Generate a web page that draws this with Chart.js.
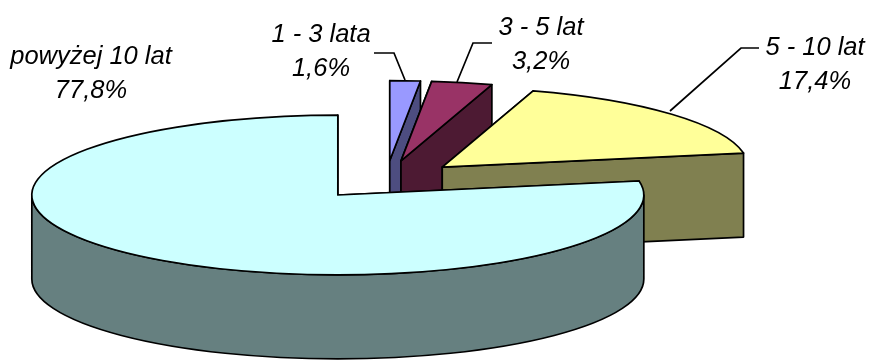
<!DOCTYPE html>
<html lang="pl">
<head>
<meta charset="utf-8">
<title>Staż</title>
<script src="https://cdn.jsdelivr.net/npm/chart.js@4"></script>
<style>
  html, body { margin: 0; background: #fff; }
  #wrap { width: 870px; height: 360px; }
</style>
</head>
<body>
<div id="wrap"><canvas id="pie" width="870" height="360"></canvas></div>
<script>
const categories = ['1 - 3 lata', '3 - 5 lat', '5 - 10 lat', 'powyżej 10 lat'];
const shares = [1.6, 3.2, 17.4, 77.8];

const topColors = ['#9999FF', '#993366', '#FFFF99', '#CCFFFF'];
const wallColors = ['#4D4D80', '#4D1A33', '#808050', '#668080'];

// 3D look of the pie
const TILT = 0.261;      // vertical squash of the circle
const DEPTH = 84;        // wall height in px
const EXPLODE = 75;      // how far each slice moves out from the centre
const STROKE = 1.7;

// centre of each two-line label, then the leader line (if any) running to its slice
const labelBoxes = [
  { x: 321, y: 35, leader: [[374, 53], [394, 53], [405, 80]] },
  { x: 541, y: 28, leader: [[492, 43], [473, 43], [457, 82]] },
  { x: 815, y: 48, leader: [[759, 48], [741, 48], [670, 111]] },
  { x: 91, y: 57, leader: null },
];
const LINE_GAP = 33.5;

const percentText = v => v.toFixed(1).replace('.', ',') + '%';

// Screen position of a slice's apex once it is pulled out along its mid angle
function sliceCentre(arc) {
  const mid = (arc.startAngle + arc.endAngle) / 2;
  return {
    x: arc.x + Math.cos(mid) * EXPLODE,
    y: arc.y + Math.sin(mid) * EXPLODE * TILT,
  };
}

function rimPoint(c, r, angle, drop) {
  return { x: c.x + Math.cos(angle) * r, y: c.y + Math.sin(angle) * r * TILT + drop };
}

function radialWall(ctx, c, r, angle) {
  const rim = rimPoint(c, r, angle, 0);
  ctx.beginPath();
  ctx.moveTo(c.x, c.y);
  ctx.lineTo(rim.x, rim.y);
  ctx.lineTo(rim.x, rim.y + DEPTH);
  ctx.lineTo(c.x, c.y + DEPTH);
  ctx.closePath();
  ctx.fill();
  ctx.stroke();
}

// Curved wall, only the part of the rim that faces the viewer
function outerWall(ctx, c, r, start, end) {
  const from = Math.max(start, 0);
  const to = Math.min(end, Math.PI);
  if (to <= from) return;
  ctx.beginPath();
  ctx.ellipse(c.x, c.y, r, r * TILT, 0, from, to);
  ctx.ellipse(c.x, c.y + DEPTH, r, r * TILT, 0, to, from, true);
  ctx.closePath();
  ctx.fill();
  ctx.stroke();
}

const pie3d = {
  id: 'pie3d',
  beforeDatasetsDraw(chart) {
    const ctx = chart.ctx;
    const arcs = chart.getDatasetMeta(0).data;

    // back to front, so the big slice ends up on top
    arcs.forEach((arc, i) => {
      const c = sliceCentre(arc);
      const r = arc.outerRadius;

      ctx.save();
      ctx.lineWidth = STROKE;
      ctx.lineJoin = 'round';
      ctx.strokeStyle = '#000';
      ctx.fillStyle = wallColors[i];
      radialWall(ctx, c, r, arc.startAngle);
      radialWall(ctx, c, r, arc.endAngle);
      outerWall(ctx, c, r, arc.startAngle, arc.endAngle);
      ctx.restore();

      // top face comes from the library's arc, squashed into an ellipse
      ctx.save();
      ctx.translate(c.x, c.y);
      ctx.scale(1, TILT);
      ctx.translate(-arc.x, -arc.y);
      arc.draw(ctx);
      ctx.restore();

      // outline stroked separately so the line width isn't squashed too
      ctx.save();
      ctx.lineWidth = STROKE;
      ctx.lineJoin = 'round';
      ctx.strokeStyle = '#000';
      ctx.beginPath();
      ctx.moveTo(c.x, c.y);
      ctx.ellipse(c.x, c.y, r, r * TILT, 0, arc.startAngle, arc.endAngle);
      ctx.closePath();
      ctx.stroke();
      ctx.restore();
    });

    return false;
  },
  // afterDatasetsDraw doesn't fire once the hook above cancels the default drawing
  afterDraw(chart) {
    const ctx = chart.ctx;
    ctx.save();
    ctx.strokeStyle = '#000';
    ctx.lineWidth = STROKE;
    ctx.fillStyle = '#000';
    ctx.font = 'italic 25.5px "Liberation Sans", Arial, sans-serif';
    ctx.textAlign = 'center';
    ctx.textBaseline = 'middle';
    labelBoxes.forEach((box, i) => {
      if (box.leader) {
        ctx.beginPath();
        box.leader.forEach(([x, y], n) => (n ? ctx.lineTo(x, y) : ctx.moveTo(x, y)));
        ctx.stroke();
      }
      ctx.fillText(categories[i], box.x, box.y);
      ctx.fillText(percentText(shares[i]), box.x, box.y + LINE_GAP);
    });
    ctx.restore();
  },
};

new Chart(document.getElementById('pie'), {
  type: 'pie',
  data: {
    labels: categories,
    datasets: [{
      data: shares,
      backgroundColor: topColors,
      borderWidth: 0,
    }],
  },
  options: {
    responsive: false,
    animation: false,
    radius: 306,
    layout: { padding: { right: 98 } },
    plugins: {
      legend: { display: false },
      tooltip: { enabled: false },
    },
  },
  plugins: [pie3d],
});
</script>
</body>
</html>
